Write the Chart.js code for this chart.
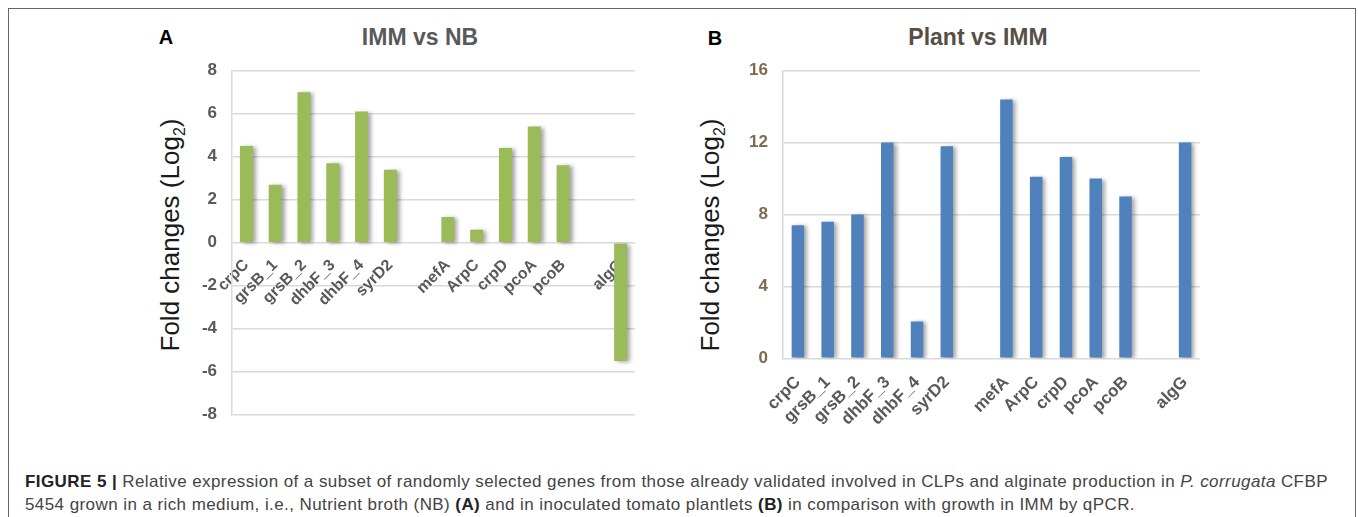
<!DOCTYPE html>
<html>
<head>
<meta charset="utf-8">
<script src="https://cdn.jsdelivr.net/npm/chart.js@4.4.1/dist/chart.umd.min.js"></script>
<style>
  html, body { margin: 0; padding: 0; background: #fff; }
  body { width: 1358px; height: 517px; position: relative; overflow: hidden; font-family: "Liberation Sans", Arial, sans-serif; }
  .frame { position: absolute; left: 8px; top: 8px; width: 1346px; height: 520px; border: 1px solid #666; border-bottom: none; }
  canvas { position: absolute; }
  .lbl { position: absolute; transform: translate(-50%, -50%); font-weight: bold; white-space: nowrap; }
  .ytitle { position: absolute; transform: translate(-50%, -50%) rotate(-90deg); font-size: 26px; color: #1a1a1a; white-space: nowrap; }
  .ytitle sub { font-size: 16px; }
  .caption { position: absolute; left: 25px; top: 470px; width: 1325px; font-size: 17px; letter-spacing: 0.42px; line-height: 23px; color: #444; white-space: nowrap; }
  .caption b { color: #222; }
</style>
</head>
<body>
<div class="frame"></div>

<div class="lbl" style="left:166px; top:37px; font-size:20px; color:#000;">A</div>
<div class="lbl" style="left:420px; top:37px; font-size:23px; color:#595959;">IMM vs NB</div>
<div class="ytitle" style="left:172px; top:235px;">Fold changes (Log<sub>2</sub>)</div>
<canvas id="chartA" width="510" height="420" style="left:150px; top:20px;"></canvas>

<div class="lbl" style="left:715px; top:38px; font-size:20px; color:#000;">B</div>
<div class="lbl" style="left:978px; top:37px; font-size:23px; color:#574f45;">Plant vs IMM</div>
<div class="ytitle" style="left:712px; top:235px;">Fold changes (Log<sub>2</sub>)</div>
<canvas id="chartB" width="530" height="420" style="left:690px; top:20px;"></canvas>

<div class="caption"><b>FIGURE 5 |</b> Relative expression of a subset of randomly selected genes from those already validated involved in CLPs and alginate production in <i>P. corrugata</i> CFBP<br>5454 grown in a rich medium, i.e., Nutrient broth (NB) <b>(A)</b> and in inoculated tomato plantlets <b>(B)</b> in comparison with growth in IMM by qPCR.</div>

<script>
// Genes (empty strings are the gaps between groups)
const genes = ['crpC', 'grsB_1', 'grsB_2', 'dhbF_3', 'dhbF_4', 'syrD2', '', 'mefA', 'ArpC', 'crpD', 'pcoA', 'pcoB', '', 'algG'];

// Fold changes (Log2)
const immVsNb = [4.5, 2.7, 7.0, 3.7, 6.1, 3.4, null, 1.2, 0.6, 4.4, 5.4, 3.6, null, -5.5];
const plantVsImm = [7.4, 7.6, 8.0, 12.0, 2.05, 11.8, null, 14.4, 10.1, 11.2, 10.0, 9.0, null, 12.0];

// Axis ranges
const rangeA = { min: -8, max: 8, step: 2 };
const rangeB = { min: 0, max: 16, step: 4 };

const gridColor = '#d9d9d9';

// Sombra de las barras
const barShadow = {
    id: 'barShadow',
    beforeDatasetsDraw(chart) {
        const c = chart.ctx;
        c.save();
        c.shadowColor = 'rgba(0,0,0,0.35)';
        c.shadowBlur = 4;
        c.shadowOffsetX = 3;
        c.shadowOffsetY = 1;
    },
    afterDatasetsDraw(chart) {
        chart.ctx.restore();
    }
};

// Gráfico A: IMM vs NB
new Chart(document.getElementById('chartA').getContext('2d'), {
    type: 'bar',
    data: {
        labels: genes,
        datasets: [{
            data: immVsNb,
            backgroundColor: '#9bbb59',
            barPercentage: 0.45,
            categoryPercentage: 1.0
        }]
    },
    options: {
        responsive: false,
        animation: false,
        layout: { padding: { top: 50.7, right: 25, bottom: 20, left: 0 } },
        plugins: { legend: { display: false }, tooltip: { enabled: false } },
        scales: {
            x: {
                position: { y: 0 },
                grid: { display: false },
                border: { display: false },
                ticks: {
                    autoSkip: false,
                    minRotation: 45,
                    maxRotation: 45,
                    padding: 5,
                    color: '#595959',
                    font: { family: 'Liberation Sans', size: 16, weight: 'bold' }
                }
            },
            y: {
                min: rangeA.min,
                max: rangeA.max,
                afterFit: s => { s.width = 82; },
                grid: { color: gridColor, lineWidth: 1.5, drawTicks: false },
                border: { color: gridColor, width: 1.5 },
                ticks: {
                    stepSize: rangeA.step,
                    padding: 15,
                    color: '#595959',
                    font: { family: 'Liberation Sans', size: 17, weight: 'bold' }
                }
            }
        }
    },
    plugins: [barShadow]
});

// Gráfico B: Plant vs IMM
new Chart(document.getElementById('chartB').getContext('2d'), {
    type: 'bar',
    data: {
        labels: genes,
        datasets: [{
            data: plantVsImm,
            backgroundColor: '#4f81bd',
            barPercentage: 0.42,
            categoryPercentage: 1.0
        }]
    },
    options: {
        responsive: false,
        animation: false,
        layout: { padding: { top: 50.7, right: 20, bottom: 0, left: 0 } },
        plugins: { legend: { display: false }, tooltip: { enabled: false } },
        scales: {
            x: {
                afterFit: s => { s.height = 81.7; },
                grid: { display: false },
                border: { display: false },
                ticks: {
                    autoSkip: false,
                    minRotation: 45,
                    maxRotation: 45,
                    padding: 6,
                    color: '#595959',
                    font: { family: 'Liberation Sans', size: 17, weight: 'bold' }
                }
            },
            y: {
                min: rangeB.min,
                max: rangeB.max,
                afterFit: s => { s.width = 93; },
                grid: { color: gridColor, lineWidth: 1.5, drawTicks: false },
                border: { color: gridColor, width: 1.5 },
                ticks: {
                    stepSize: rangeB.step,
                    padding: 15,
                    color: '#7d6a50',
                    font: { family: 'Liberation Sans', size: 17, weight: 'bold' }
                }
            }
        }
    },
    plugins: [barShadow]
});
</script>
</body>
</html>
